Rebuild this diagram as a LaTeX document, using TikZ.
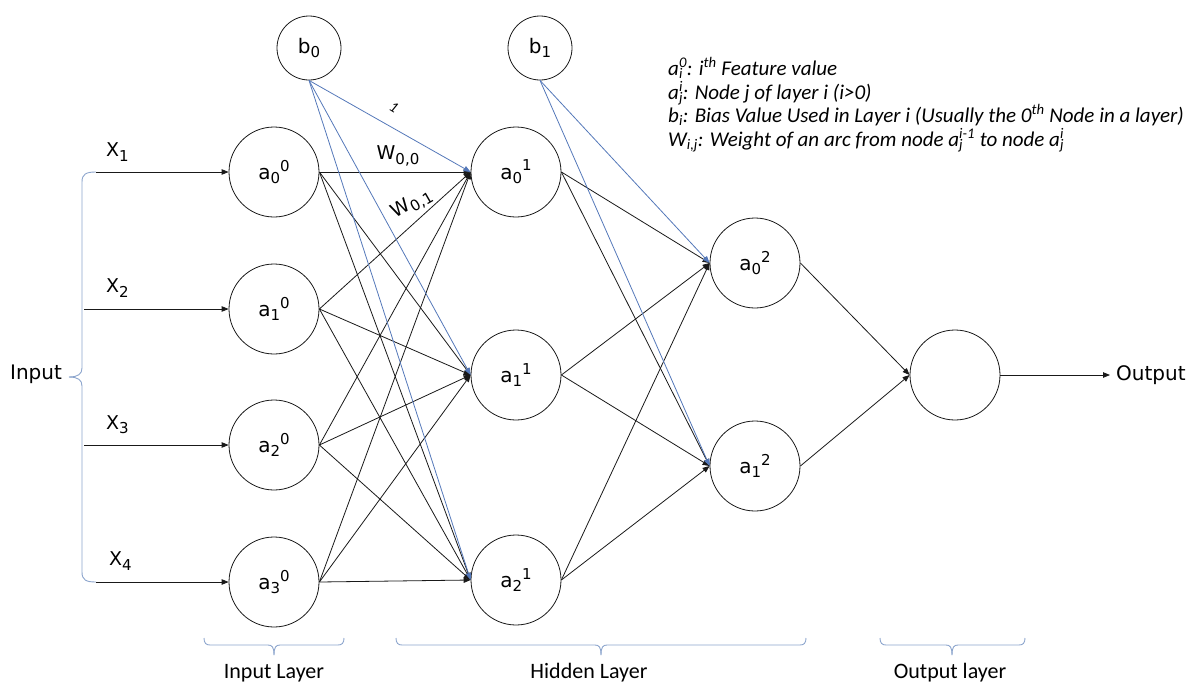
\documentclass[tikz,border=0pt]{standalone}
\usepackage{fontspec}
\setmainfont{DejaVu Sans}
\newfontfamily\calib{Carlito}
\usetikzlibrary{arrows.meta}

\definecolor{biasblue}{RGB}{84,120,185}
\definecolor{bracecol}{RGB}{140,165,205}
\definecolor{wire}{RGB}{25,25,25}

% letter with a subscript followed by a superscript
\newcommand\lbl[3]{#1\raisebox{-0.22em}{\fontsize{15}{15}\selectfont #2}\raisebox{0.42em}{\fontsize{15}{15}\selectfont #3}}
% letter with a subscript only
\newcommand\lsub[2]{#1\raisebox{-0.22em}{\fontsize{15}{15}\selectfont #2}}
% stacked sub- and superscript
\newcommand\stk[2]{\rlap{\textsubscript{#1}}\textsuperscript{#2}}
% horizontal layer brace: left x, centre x, right x
\newcommand\hbr[3]{%
  \draw[brace] (#1,638) .. controls (#1,643) and ({#1+2},645) .. ({#1+6},645)
    -- ({#2-6},645) .. controls ({#2-2},645) and (#2,647) .. (#2,655);
  \draw[brace] (#2,655) .. controls (#2,647) and ({#2+2},645) .. ({#2+6},645)
    -- ({#3-6},645) .. controls ({#3-2},645) and (#3,643) .. (#3,638);}

\begin{document}
\begin{tikzpicture}[x=1pt,y=-1pt,
  neuron/.style={circle, draw=wire, line width=0.8pt, minimum size=90pt,
    inner sep=0pt, font=\fontsize{20}{24}\selectfont},
  bias/.style={neuron, minimum size=64pt},
  link/.style={draw=wire, line width=0.8pt, -{Triangle[length=7pt,width=5.5pt]}},
  blink/.style={link, draw=biasblue, -{Triangle[length=7pt,width=5.5pt,fill=biasblue]}},
  brace/.style={draw=bracecol, line width=0.9pt},
  txt/.style={inner sep=0pt, font=\fontsize{20}{24}\selectfont},
  xlab/.style={inner sep=0pt, anchor=west, font=\fontsize{19}{22}\selectfont},
  layerlab/.style={inner sep=0pt, font=\calib\fontsize{22}{26}\selectfont},
  legend/.style={inner sep=0pt, anchor=base west, font=\calib\itshape\fontsize{21}{24}\selectfont}]
\useasboundingbox (0,0) rectangle (1203,686);

% input layer
\node[neuron] (i0) at (274,172) {\lbl{a}{0}{0}};
\node[neuron] (i1) at (274,309) {\lbl{a}{1}{0}};
\node[neuron] (i2) at (274,445) {\lbl{a}{2}{0}};
\node[neuron] (i3) at (274,582) {\lbl{a}{3}{0}};
% hidden layers
\node[neuron] (h0) at (516,172) {\lbl{a}{0}{1}};
\node[neuron] (h1) at (516,375) {\lbl{a}{1}{1}};
\node[neuron] (h2) at (516,580) {\lbl{a}{2}{1}};
\node[neuron] (o0) at (755,263) {\lbl{a}{0}{2}};
\node[neuron] (o1) at (755,466) {\lbl{a}{1}{2}};
% output unit
\node[neuron] (out) at (955,375) {};
% bias units
\node[bias] (b0) at (309,48) {\lsub{b}{0}};
\node[bias] (b1) at (540,48) {\lsub{b}{1}};

% weighted connections
\foreach \s in {i0,i1,i2,i3}
  \foreach \t in {h0,h1,h2}
    \draw[link] (\s.east) -- (\t.west);
\foreach \s in {h0,h1,h2}
  \foreach \t in {o0,o1}
    \draw[link] (\s.east) -- (\t.west);
\foreach \s in {o0,o1}
  \draw[link] (\s.east) -- (out.west);
% bias connections
\foreach \t in {h0,h1,h2}
  \draw[blink] (b0.south) -- (\t.west);
\foreach \t in {o0,o1}
  \draw[blink] (b1.south) -- (\t.west);

% output arrow
\node[txt, anchor=west] (outlbl) at (1116,375) {Output};
\draw[link] (out.east) -- ([xshift=-6pt]outlbl.west);

% input brace and feature arrows
\node[txt] (inlbl) at (36,374) {Input};
\coordinate (x1s) at (96,172);
\coordinate (x2s) at (84,309);
\coordinate (x3s) at (84,445);
\coordinate (x4s) at (96,582);
\draw[brace] (x1s) .. controls (86,172) and (82,174) .. (82,182) -- (82,368)
  .. controls (82,374) and (78,377) .. (69,377);
\draw[brace] (69,377) .. controls (78,377) and (82,380) .. (82,386) -- (82,572)
  .. controls (82,580) and (86,582) .. (x4s);
\draw[link] (x1s) -- (i0.west);
\draw[link] (x2s) -- (i1.west);
\draw[link] (x3s) -- (i2.west);
\draw[link] (x4s) -- (i3.west);
\node[xlab] (x1) at (106,152) {\lsub{X}{1}};
\node[xlab] (x2) at (106,288) {\lsub{X}{2}};
\node[xlab] (x3) at (106,425) {\lsub{X}{3}};
\node[xlab] (x4) at (109,561) {\lsub{X}{4}};

% weight labels
\node[inner sep=0pt, rotate=-32, font=\calib\itshape\fontsize{15}{15}\selectfont] (one) at (394,107) {1};
\node[txt, font=\fontsize{19}{22}\selectfont] (w00) at (398,156) {\lsub{W}{0,0}};
\node[txt, rotate=30, font=\fontsize{19}{22}\selectfont] (w01) at (412,204) {\lsub{W}{0,1}};

% layer braces
\hbr{204}{274}{344}
\hbr{396}{601}{806}
\hbr{880}{952}{1025}
\node[layerlab] (l1) at (274,673) {Input Layer};
\node[layerlab] (l2) at (589,673) {Hidden Layer};
\node[layerlab] (l3) at (950,673) {Output layer};

% notation legend
\node[legend] (g1) at (668,75) {a\stk{i}{0}: i\textsuperscript{th} Feature value};
\node[legend] (g2) at (668,99) {a\stk{j}{i}: Node j of layer i (i>0)};
\node[legend] (g3) at (668,122) {b\textsubscript{i}: Bias Value Used in Layer i (Usually the 0\textsuperscript{th} Node in a layer)};
\node[legend] (g4) at (668,146) {W\textsubscript{i,j}: Weight of an arc from node a\stk{j}{i-1} to node a\stk{j}{i}};
\end{tikzpicture}
\end{document}
